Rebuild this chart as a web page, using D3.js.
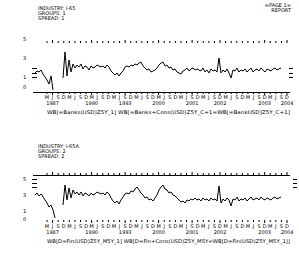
<!DOCTYPE html>
<html><head><meta charset="utf-8">
<script src="https://cdn.jsdelivr.net/npm/d3@7"></script>
<style>html,body{margin:0;padding:0;background:#fff;}svg{display:block;}text{font-family:"DejaVu Sans",sans-serif;fill:#000;}</style>
</head><body>
<script>
// ---- data ----
const topSeries = [1.46,1.67,1.56,1.77,1.35,1.04,0.73,0.31,1.15,-0.31,null,null,null,null,
0.94,3.65,1.15,2.81,1.56,2.40,1.98,2.29,2.08,2.40,1.88,2.19,2.08,1.77,2.19,1.98,2.08,2.29,2.19,2.08,2.19,1.98,2.29,2.08,
1.67,1.46,1.25,1.46,1.15,1.46,1.67,2.08,2.19,2.08,2.29,2.19,2.40,2.29,2.50,2.60,2.19,1.98,1.77,1.88,1.56,1.67,1.77,1.98,
2.29,2.50,2.60,2.19,2.29,1.98,2.08,1.77,1.88,1.56,1.46,1.35,1.67,1.77,1.98,1.67,1.88,1.98,1.77,1.88,1.77,1.67,1.98,1.56,
1.77,1.46,1.88,1.67,1.77,1.56,3.02,1.46,1.77,1.56,1.88,1.46,0.94,1.77,1.67,1.98,1.56,1.77,1.67,1.88,1.56,1.77,1.98,1.56,
1.77,1.88,1.67,1.98,1.77,1.56,1.88,1.77,1.67,1.88,1.98,1.77,1.88,1.98];
const bottomSeries = [3.0,3.25,2.88,3.13,2.75,2.38,2.0,1.5,1.75,1.13,0.13,null,null,null,
1.75,4.25,2.38,3.88,2.63,3.63,3.13,3.38,3.0,3.38,2.88,3.25,3.13,2.88,3.25,3.0,3.13,3.38,3.25,3.13,3.25,3.0,3.38,3.13,
2.63,2.25,2.0,2.25,1.88,2.38,2.75,3.13,3.25,3.13,3.5,3.38,3.75,4.0,3.63,3.25,3.0,2.63,2.75,2.38,2.5,2.25,2.63,3.0,
3.63,4.0,4.25,3.75,3.63,3.25,3.38,3.0,2.88,2.63,2.38,2.13,2.25,2.0,2.38,2.25,2.5,2.38,2.63,2.38,2.5,2.25,2.63,2.38,
2.5,2.25,2.63,2.38,2.5,2.25,4.13,2.0,2.5,2.25,2.63,2.38,1.63,2.5,2.38,2.75,2.25,2.5,2.38,2.63,2.25,2.5,2.75,2.38,
2.5,2.63,2.38,2.75,2.5,2.38,2.63,2.5,2.38,2.63,2.75,2.5,2.63,2.75];
const quarterLetters = [];
for (let y = 0; y < 11; y++) quarterLetters.push("M","J","S","D");
const yearLabels = ["1987","1990","1993","2000","2001","2002","2003","2004"];
const yearQuarterIndex = [1,8,14,20,26,31,39,43];
const yTickLabels = [5,3,1,0];
const minorTicks = [1,1.5,2];
const minorTicksBottom = [4,4.5,5];

const topTitle = ["INDUSTRY: I-65","GROUPS: 1","SPREAD: 1"];
const bottomTitle = ["INDUSTRY: I-65A","GROUPS: 2","SPREAD: 2"];
const cornerText = ["=PAGE 1=","REPORT"];
const topLegend = "WB[=Banks(USD)Z5Y_1]    WB[=Banks+Cons(USD)Z5Y_C+1=WB[=BankUSD]Z5Y_C+1]";
const bottomLegend = "WB[D=Fin(USD)Z5Y_M5Y_1]    WB[D=Fin+Cons(USD)Z5Y_M5Y=WB[D=Fin(USD)Z5Y_M5Y_1]]";

// ---- drawing ----
const W = 299, H = 267;
const svg = d3.select("body").append("svg").attr("width", W).attr("height", H);
svg.append("rect").attr("width", W).attr("height", H).attr("fill", "#fff");

const x = d3.scaleLinear().domain([0, topSeries.length - 1]).range([35, 281]);
const q = d3.scalePoint().domain(d3.range(quarterLetters.length)).range([47, 287]);

function panel(cfg) {
  const g = svg.append("g");
  const y = d3.scaleLinear().domain([0, 5]).range(cfg.yRange);
  // titles
  cfg.title.forEach((t, i) => g.append("text").attr("x", 38).attr("y", cfg.titleY + i * 5)
    .attr("font-size", 5).text(t));
  // top tick row
  g.selectAll(".tt").data(d3.range(quarterLetters.length)).join("line")
    .attr("x1", d => q(d)).attr("x2", d => q(d))
    .attr("y1", d => cfg.topTickY - (yearQuarterIndex.includes(d) ? 3 : 2)).attr("y2", cfg.topTickY)
    .attr("stroke", "#000").attr("stroke-width", 1);
  if (cfg.topLine) g.append("line").attr("x1", 33).attr("x2", 290).attr("y1", cfg.topTickY + 0.5).attr("y2", cfg.topTickY + 0.5)
    .attr("stroke", "#000");
  // y labels
  g.selectAll(".yl").data(yTickLabels).join("text").attr("x", 23).attr("y", d => y(d) + 2)
    .attr("font-size", 5).text(d => d);
  // minor ticks left and right
  g.selectAll(".ml").data(cfg.minor).join("line")
    .attr("x1", 32).attr("x2", 37).attr("y1", d => Math.round(y(d)) + 0.5).attr("y2", d => Math.round(y(d)) + 0.5)
    .attr("stroke", "#000");
  g.selectAll(".mr").data(cfg.minor).join("line")
    .attr("x1", cfg.rightX).attr("x2", cfg.rightX + 4).attr("y1", d => Math.round(y(d)) + 0.5).attr("y2", d => Math.round(y(d)) + 0.5)
    .attr("stroke", "#000");
  // series
  const line = d3.line().defined(d => d != null).x((d, i) => x(i)).y(d => y(d));
  g.append("path").datum(cfg.series).attr("d", line).attr("fill", "none")
    .attr("stroke", "#000").attr("stroke-width", 1);
  // bottom axis
  if (cfg.bottomLine) g.append("line").attr("x1", 33).attr("x2", 290).attr("y1", cfg.bottomY + 0.5).attr("y2", cfg.bottomY + 0.5)
    .attr("stroke", "#000").attr("stroke-width", 1.2);
  g.selectAll(".bt").data(d3.range(quarterLetters.length)).join("line")
    .attr("x1", d => q(d)).attr("x2", d => q(d))
    .attr("y1", cfg.bottomY).attr("y2", d => cfg.bottomY + (yearQuarterIndex.includes(d) ? 3 : 2))
    .attr("stroke", "#000");
  g.selectAll(".ql").data(quarterLetters).join("text")
    .attr("x", (d, i) => q(i)).attr("y", cfg.letterY).attr("text-anchor", "middle")
    .attr("font-size", 5).text(d => d);
  g.selectAll(".yr").data(yearLabels).join("text")
    .attr("x", (d, i) => q(yearQuarterIndex[i])).attr("y", cfg.letterY + 6).attr("text-anchor", "middle")
    .attr("font-size", 5).text(d => d);
  g.append("text").attr("x", 47).attr("y", cfg.letterY + 15).attr("font-size", 5)
    .attr("textLength", 243).attr("lengthAdjust", "spacingAndGlyphs").text(cfg.legend);
}

cornerText.forEach((t, i) => svg.append("text").attr("x", 291).attr("y", 7 + i * 5)
  .attr("text-anchor", "end").attr("font-size", 5).text(t));

panel({series: topSeries, yRange: [87, 39], title: topTitle, titleY: 10, topTickY: 43, topLine: false,
  minor: minorTicks, rightX: 289, bottomLine: true, bottomY: 92, letterY: 99, legend: topLegend});
panel({series: bottomSeries, yRange: [219, 179], title: bottomTitle, titleY: 148, topTickY: 175, topLine: true,
  minor: minorTicksBottom, rightX: 293, bottomLine: false, bottomY: 220, letterY: 228, legend: bottomLegend});
</script>
</body></html>
